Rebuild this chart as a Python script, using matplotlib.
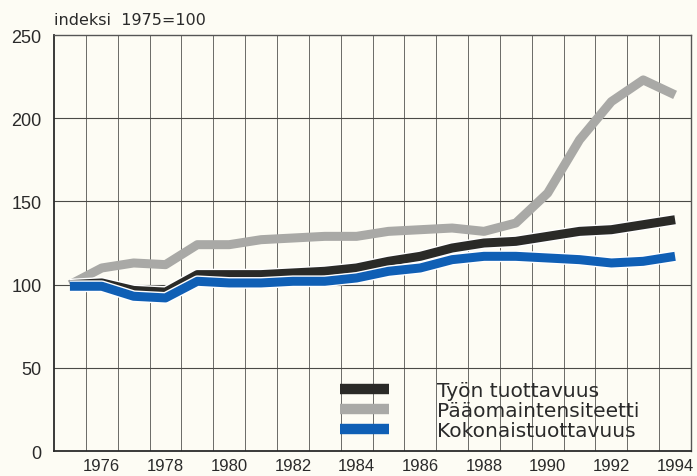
import matplotlib
matplotlib.use('Agg')
import matplotlib.pyplot as plt
import matplotlib.patheffects as pe

plt.rcParams['font.family'] = ['Liberation Sans', 'DejaVu Sans']

years = list(range(1975, 1995))
tyon = [100, 101, 96.5, 95.5, 106, 106, 106, 107, 108, 110,
        114, 117, 122, 125, 126, 129, 132, 133, 136, 139]
paaoma = [100, 110, 113, 112, 124, 124, 127, 128, 129, 129,
          132, 133, 134, 132, 137, 155, 187, 210, 223, 214]
kokonais = [99, 99, 93, 92, 102, 101, 101, 102, 102, 104,
            108, 110, 115, 117, 117, 116, 115, 113, 114, 117]
labels = ['Työn tuottavuus', 'Pääomaintensiteetti', 'Kokonaistuottavuus']
xticks = list(range(1976, 1995, 2))
yticks = [0, 50, 100, 150, 200, 250]

bg = '#fdfcf4'
fig = plt.figure(figsize=(6.97, 4.77), dpi=100, facecolor=bg)
ax = fig.add_axes([0.0775, 0.0524, 0.9139, 0.8721], facecolor=bg)

ax.set_xlim(1974.5, 1994.5)
ax.set_ylim(0, 250)

# grid: vertical lines at year boundaries, horizontal at every 50
for x in [y + 0.5 for y in years[:-1]]:
    ax.axvline(x, color='#6a6a66', lw=0.7, zorder=1)
for y in yticks[1:-1]:
    ax.axhline(y, color='#4a4a46', lw=0.8, zorder=1)

outline = [pe.Stroke(linewidth=8.5, foreground='white'), pe.Normal()]
ax.plot(years, paaoma, color='#a9a9a6', lw=6.5, solid_capstyle='butt',
        label=labels[1], zorder=3)
ax.plot(years, tyon, color='#2a2a27', lw=6.5, solid_capstyle='butt',
        label=labels[0], zorder=4, path_effects=outline)
ax.plot(years, kokonais, color='#0f5fb5', lw=6.5, solid_capstyle='butt',
        label=labels[2], zorder=5, path_effects=outline)

ax.set_xticks(xticks)
ax.set_yticks(yticks)
ax.tick_params(axis='both', length=0)
ax.tick_params(axis='x', labelsize=12, pad=5, colors='#2a2a2a')
ax.tick_params(axis='y', labelsize=13, pad=9, colors='#2a2a2a')

for side in ['left', 'bottom']:
    ax.spines[side].set_color('#2a2a2a')
    ax.spines[side].set_linewidth(1.3)
for side in ['top', 'right']:
    ax.spines[side].set_color('#555555')
    ax.spines[side].set_linewidth(1.0)

fig.text(0.078, 0.957, 'indeksi  1975=100', fontsize=11.5, color='#2a2a2a',
         ha='left', va='center', family='DejaVu Sans')

handles, labs = ax.get_legend_handles_labels()
order = [1, 0, 2]
leg = fig.legend([handles[i] for i in order], [labs[i] for i in order],
                 loc='upper left', bbox_to_anchor=(340 / 697, 1 - 382 / 477),
                 frameon=False, prop={'family': 'DejaVu Sans', 'size': 14.5},
                 handlelength=2.45, handletextpad=2.35, labelspacing=0.06,
                 borderpad=0, borderaxespad=0)
for line in leg.get_lines():
    line.set_path_effects([])
    line.set_linewidth(7.5)
for t in leg.get_texts():
    t.set_color('#2a2a2a')

fig.savefig('out.png', dpi=100, facecolor=bg)
